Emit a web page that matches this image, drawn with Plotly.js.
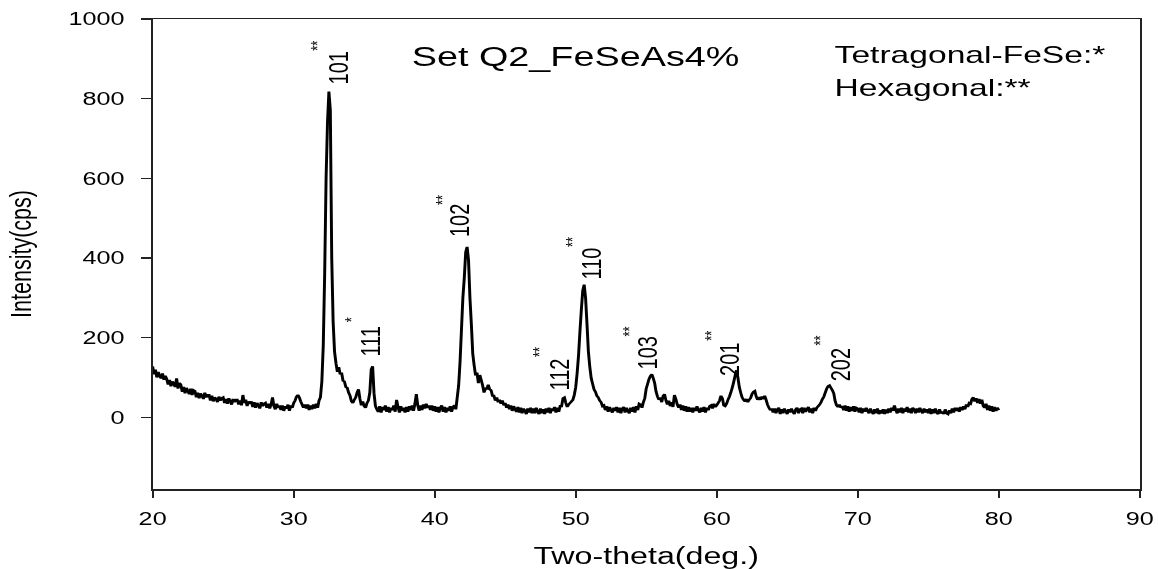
<!DOCTYPE html>
<html>
<head>
<meta charset="utf-8">
<script src="https://cdn.plot.ly/plotly-3.0.1.min.js"></script>
<style>
  html, body { margin: 0; padding: 0; background: #ffffff; overflow: hidden; }
  #wrap { width: 827px; height: 569px; transform: scaleX(1.40024); transform-origin: 0 0; will-change: transform; }
  #chart { width: 827px; height: 569px; }
</style>
</head>
<body>
<div id="wrap"><div id="chart"></div></div>
<script>
// ---- data ----
const chartTitle = 'Set Q2_FeSeAs4%';
const xTitle = 'Two-theta(deg.)';
const yTitle = 'Intensity(cps)';
const scanStart = 20;     // 2-theta of first point (deg)
const scanStep = 0.1;     // 2-theta step (deg)
const intensity = [
  128,108,120,100,114,104,98,110,94,104,  // 20
  96,82,94,78,90,84,76,98,72,86,          // 21
  82,64,76,60,74,66,58,72,56,68,          // 22
  66,50,62,48,60,54,46,62,50,56,          // 23
  56,42,54,40,50,46,38,52,42,48,          // 24
  50,36,46,34,48,40,32,46,38,44,          // 25
  44,32,42,30,56,36,44,28,40,34,          // 26
  40,26,38,24,36,30,22,38,28,34,          // 27
  36,24,34,22,32,50,28,20,34,24,          // 28
  30,18,30,16,28,22,32,16,30,24,          // 29
  36,42,52,56,50,40,32,24,32,22,          // 30
  32,18,30,20,32,22,34,24,42,50,          // 31
  90,180,360,600,740,818,772,400,240,165, // 32
  136,114,126,108,112,92,90,76,74,62,     // 33
  54,40,36,44,50,62,70,46,30,40,          // 34
  28,24,36,42,62,120,128,60,28,20,        // 35
  14,28,12,26,18,30,14,26,12,24,          // 36
  18,30,14,44,26,12,28,16,24,12,          // 37
  26,14,28,18,30,16,34,58,30,16,          // 38
  30,18,32,22,34,24,30,18,30,16,          // 39
  28,14,26,12,24,30,14,26,12,24,          // 40
  16,28,14,26,30,20,50,80,140,220,        // 41
  300,350,415,428,395,300,235,160,130,105,// 42
  112,86,106,94,80,62,72,72,82,70,        // 43
  68,54,54,42,50,38,44,34,42,30,          // 44
  36,24,32,20,30,16,28,20,14,26,          // 45
  12,24,10,22,16,8,22,12,24,10,           // 46
  22,10,24,14,8,22,10,20,8,22,            // 47
  12,24,10,22,16,26,12,24,14,28,          // 48
  28,48,50,36,26,32,36,40,44,56,          // 49
  75,110,155,215,270,318,333,300,235,165, // 50
  127,98,84,70,64,54,50,42,38,28,         // 51
  30,18,28,14,26,18,12,24,16,26,          // 52
  12,24,10,22,26,12,24,16,10,24,          // 53
  14,26,12,28,18,34,32,24,38,48,          // 54
  72,84,96,104,108,98,86,64,52,44,        // 55
  50,38,54,58,42,32,42,28,38,26,          // 56
  56,46,32,24,32,18,30,16,28,14,          // 57
  26,14,24,12,24,16,28,18,12,24,          // 58
  14,26,12,24,18,28,30,22,34,26,          // 59
  30,36,42,54,48,30,28,34,44,52,          // 60
  62,74,88,104,118,100,76,62,50,44,       // 61
  40,46,38,44,48,58,64,66,52,44,          // 62
  48,44,52,46,54,44,32,24,18,22,          // 63
  12,22,10,20,24,8,20,10,22,14,           // 64
  8,20,12,22,14,8,20,24,10,20,            // 65
  22,10,24,14,20,26,12,22,10,24,          // 66
  16,24,28,32,38,46,52,62,72,78,          // 67
  80,74,68,60,40,30,26,32,24,28,          // 68
  18,30,16,28,14,26,16,28,14,24,          // 69
  22,12,24,10,22,14,24,16,10,22,          // 70
  14,8,20,10,22,8,18,10,20,8,             // 71
  20,10,22,12,24,16,30,18,10,22,          // 72
  12,24,10,22,14,26,12,22,10,24,          // 73
  20,10,22,12,24,16,10,22,12,20,          // 74
  10,22,8,20,10,22,12,8,20,10,            // 75
  14,8,20,10,8,18,10,22,12,24,            // 76
  16,24,14,26,18,28,20,32,26,36,          // 77
  34,46,50,40,48,36,46,34,44,28,          // 78
  24,34,18,30,16,28,14,26,16,24,          // 79
  18                                      // 80
];
const peakLabels = ['101','111','102','110','112','103','201','202'];
const peakPhase  = ['**','*','**','**','**','**','**','**'];
const legendLines = ['Tetragonal-FeSe:*', 'Hexagonal:**'];
const xTicks = [20,30,40,50,60,70,80,90];
const yTicks = [0,200,400,600,800,1000];

// ---- presentation ----
const FONT = 'Liberation Sans, Arial, Helvetica, sans-serif';
// label anchor positions (data coords) for each peak label and its phase marker
const labelPos = [[33.09,878],[35.38,190],[41.70,494],[51.07,386],[48.77,107],[55.08,161],[60.91,144],[68.71,132]];
const starPos  = [[31.73,933],[34.14,245],[40.57,546],[49.83,441],[47.45,165],[53.84,215],[59.63,205],[67.44,192]];

const annotations = [];
peakLabels.forEach((lab, i) => {
  annotations.push({x: labelPos[i][0], y: labelPos[i][1], xref:'x', yref:'y', text: lab,
    textangle: -90, showarrow: false, xanchor:'center', yanchor:'middle',
    font: {family: FONT, size: 20, color: '#000000'}});
  annotations.push({x: starPos[i][0], y: starPos[i][1], xref:'x', yref:'y', text: peakPhase[i],
    textangle: -90, showarrow: false, xanchor:'center', yanchor:'middle',
    font: {family: FONT, size: 13, color: '#000000'}});
});
annotations.push({x: 50, y: 905, xref:'x', yref:'y', text: chartTitle, showarrow:false,
  xanchor:'center', yanchor:'middle', font:{family: FONT, size: 27, color:'#000000'}});
annotations.push({x: 68.16, y: 911, xref:'x', yref:'y', text: legendLines[0], showarrow:false,
  xanchor:'left', yanchor:'middle', font:{family: FONT, size: 24, color:'#000000'}});
annotations.push({x: 68.16, y: 828, xref:'x', yref:'y', text: legendLines[1], showarrow:false,
  xanchor:'left', yanchor:'middle', font:{family: FONT, size: 24, color:'#000000'}});

const trace = {
  type: 'scatter', mode: 'lines',
  x0: scanStart, dx: scanStep, y: intensity,
  line: {color: '#000000', width: 2.1, simplify: false},
  hoverinfo: 'skip', showlegend: false
};

const axisCommon = {
  showline: true, mirror: true, linecolor: '#222', linewidth: 1.5,
  ticks: 'outside', ticklen: 7, tickwidth: 1.5, tickcolor: '#222',
  showgrid: false, zeroline: false,
  tickfont: {family: FONT, size: 18, color: '#000000'}
};

const layout = {
  width: 827, height: 569,
  margin: {l: 109, r: 13, t: 19, b: 80, pad: 0},
  paper_bgcolor: '#ffffff', plot_bgcolor: '#ffffff',
  showlegend: false,
  xaxis: Object.assign({}, axisCommon, {
    range: [20, 90], tickmode: 'array', tickvals: xTicks, ticktext: xTicks.map(String),
    ticklabelstandoff: 6,
    title: {text: xTitle, font: {family: FONT, size: 23, color: '#000000'}, standoff: 20}
  }),
  yaxis: Object.assign({}, axisCommon, {
    range: [-180, 1000], tickmode: 'array', tickvals: yTicks, ticktext: yTicks.map(String),
    ticklabelstandoff: 8,
    title: {text: yTitle, font: {family: FONT, size: 21.5, color: '#000000'}, standoff: 20}
  }),
  annotations: annotations
};

Plotly.newPlot('chart', [trace], layout, {staticPlot: true, displayModeBar: false});
</script>
</body>
</html>
